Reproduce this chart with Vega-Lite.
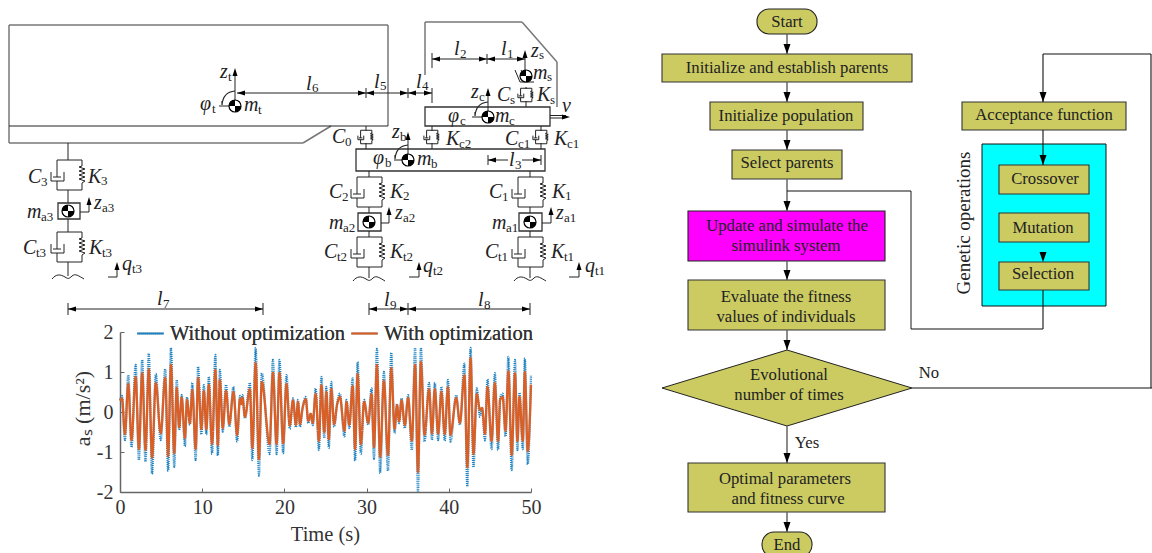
{
"$schema":"https://vega.github.io/schema/vega-lite/v6.json",
"width":1152,"height":553,"padding":0,"autosize":{"type":"none"},
"background":"white","view":{"stroke":null},
"config":{"text":{"font":"Liberation Serif"},"legend":{"labelFont":"Liberation Serif"}},
"resolve":{"scale":{"x":"independent","y":"independent","color":"independent"}},
"layer":[
{"encoding":{"x":{"field":"x","type":"quantitative","scale":{"domain":[0,1152],"range":[0,1152],"nice":false,"zero":false},"axis":null},"y":{"field":"y","type":"quantitative","scale":{"domain":[0,553],"range":[0,553],"nice":false,"zero":false},"axis":null}},
"layer":[
{"data":{"values":[{"x":982,"y":144,"x2":1106,"y2":306}]},"mark":{"type":"rect","fill":"#00FFFF","stroke":"#111","strokeWidth":1},"encoding":{"x2":{"field":"x2"},"y2":{"field":"y2"}}},
{"data":{"values":[
{"x":662,"y":54,"x2":912,"y2":82},{"x":710,"y":102,"x2":863,"y2":130},{"x":732,"y":150,"x2":842,"y2":179},{"x":688,"y":280,"x2":885,"y2":330},{"x":688,"y":463,"x2":885,"y2":512},{"x":962,"y":102,"x2":1126,"y2":130},{"x":999,"y":165,"x2":1089,"y2":194},{"x":999,"y":213,"x2":1089,"y2":242},{"x":999,"y":262,"x2":1089,"y2":290}
]},"mark":{"type":"rect","fill":"#CBCB62","stroke":"#333","strokeWidth":1.1},"encoding":{"x2":{"field":"x2"},"y2":{"field":"y2"}}},
{"data":{"values":[{"x":688,"y":211,"x2":885,"y2":261}]},"mark":{"type":"rect","fill":"#FF00FF","stroke":"#222","strokeWidth":1.1},"encoding":{"x2":{"field":"x2"},"y2":{"field":"y2"}}},
{"data":{"values":[{"x":757,"y":9,"x2":817,"y2":34},{"x":762,"y":532,"x2":812,"y2":557}]},"mark":{"type":"rect","fill":"#CBCB62","stroke":"#222","strokeWidth":1.1,"cornerRadius":12},"encoding":{"x2":{"field":"x2"},"y2":{"field":"y2"}}},
{"data":{"values":[{"x":787,"y":388}]},"mark":{"type":"point","shape":"M-125,0L0,-38L125,0L0,38Z","size":4,"filled":true,"fill":"#CBCB62","stroke":"#222","strokeWidth":1,"opacity":1}},
{"data":{"values":[
{"x":787,"y":34,"x2":787,"y2":54},{"x":787,"y":82,"x2":787,"y2":102},{"x":787,"y":130,"x2":787,"y2":150},{"x":787,"y":179,"x2":787,"y2":211},{"x":787,"y":261,"x2":787,"y2":280},{"x":787,"y":330,"x2":787,"y2":350},{"x":787,"y":426,"x2":787,"y2":463},{"x":787,"y":512,"x2":787,"y2":532},{"x":911,"y":191,"x2":911,"y2":329}
]},"mark":{"type":"rule","stroke":"#666","strokeWidth":1.5},"encoding":{"x2":{"field":"x2"},"y2":{"field":"y2"}}},
{"data":{"values":[
{"x":787,"y":191,"x2":911,"y2":191},{"x":911,"y":329,"x2":1043,"y2":329},{"x":1043,"y":329,"x2":1043,"y2":290},{"x":912,"y":388,"x2":1152,"y2":388},{"x":1151,"y":388,"x2":1151,"y2":54},{"x":1151,"y":54,"x2":1043,"y2":54},{"x":1043,"y":54,"x2":1043,"y2":102},{"x":1043,"y":130,"x2":1043,"y2":165}
]},"mark":{"type":"rule","stroke":"#111","strokeWidth":1.1},"encoding":{"x2":{"field":"x2"},"y2":{"field":"y2"}}},
{"data":{"values":[
{"x":787,"y":54},{"x":787,"y":102},{"x":787,"y":150},{"x":787,"y":211},{"x":787,"y":280},{"x":787,"y":350},{"x":787,"y":463},{"x":787,"y":532},{"x":1043,"y":102},{"x":1043,"y":165},{"x":1043,"y":262}
]},"mark":{"type":"point","shape":"M-3.5,-10L3.5,-10L0,0Z","size":4,"filled":true,"fill":"#000","stroke":null,"opacity":1}},
{"data":{"values":[
{"x":787,"y":22,"label":"Start"},{"x":787,"y":68,"label":"Initialize and establish parents"},{"x":786,"y":116,"label":"Initialize population"},{"x":787,"y":163,"label":"Select parents"},{"x":787,"y":226,"label":"Update and simulate the"},{"x":786,"y":246,"label":"simulink system"},{"x":786,"y":297,"label":"Evaluate the fitness"},{"x":786,"y":317,"label":"values of individuals"},{"x":789,"y":375,"label":"Evolutional"},{"x":789,"y":395,"label":"number of times"},{"x":785,"y":479,"label":"Optimal parameters"},{"x":788,"y":499,"label":"and fitness curve"},{"x":787,"y":545,"label":"End"},{"x":1044,"y":115,"label":"Acceptance function"},{"x":1045,"y":179,"label":"Crossover"},{"x":1043,"y":228,"label":"Mutation"},{"x":1043,"y":274,"label":"Selection"},{"x":929,"y":373,"label":"No"},{"x":807,"y":443,"label":"Yes"}
]},"mark":{"type":"text","font":"Liberation Serif","fontSize":16.7,"fill":"#222","align":"center","baseline":"middle"},"encoding":{"text":{"field":"label"}}},
{"data":{"values":[{"x":964,"y":223,"label":"Genetic operations"}]},"mark":{"type":"text","font":"Liberation Serif","fontSize":19,"fill":"#222","align":"center","baseline":"middle","angle":270},"encoding":{"text":{"field":"label"}}},
{"data":{"values":[
{"x":9,"y":25,"x2":388,"y2":25},{"x":388,"y":25,"x2":388,"y2":126},{"x":9,"y":25,"x2":9,"y2":143},{"x":9,"y":143,"x2":303,"y2":143},{"x":303,"y":143,"x2":331,"y2":126},{"x":425,"y":75,"x2":425,"y2":22},{"x":425,"y":22,"x2":522,"y2":22},{"x":522,"y":22,"x2":557,"y2":62},{"x":557,"y":62,"x2":557,"y2":107}
]},"mark":{"type":"rule","stroke":"#777","strokeWidth":1.5},"encoding":{"x2":{"field":"x2"},"y2":{"field":"y2"}}},
{"data":{"values":[
{"x":425,"y":107,"x2":550,"y2":126},{"x":356,"y":149,"x2":545,"y2":171},{"x":58,"y":203,"x2":80,"y2":219},{"x":358,"y":213,"x2":381,"y2":231},{"x":519,"y":213,"x2":542,"y2":231}
]},"mark":{"type":"rect","fill":null,"stroke":"#333","strokeWidth":1.3},"encoding":{"x2":{"field":"x2"},"y2":{"field":"y2"}}},
{"data":{"values":[
{"x":9,"y":126,"x2":388,"y2":126},
{"x":68,"y":143,"x2":68,"y2":160},{"x":68,"y":190,"x2":68,"y2":203},{"x":68,"y":219,"x2":68,"y2":232},{"x":68,"y":262,"x2":68,"y2":276},
{"x":369,"y":171,"x2":369,"y2":177},{"x":369,"y":207,"x2":369,"y2":213},{"x":369,"y":231,"x2":369,"y2":237},{"x":369,"y":267,"x2":369,"y2":278},
{"x":530,"y":171,"x2":530,"y2":177},{"x":530,"y":207,"x2":530,"y2":213},{"x":530,"y":231,"x2":530,"y2":237},{"x":530,"y":267,"x2":530,"y2":278},
{"x":80,"y":212,"x2":89,"y2":212},{"x":89,"y":212,"x2":89,"y2":200},{"x":381,"y":223,"x2":389,"y2":223},{"x":389,"y":223,"x2":389,"y2":210},{"x":542,"y":223,"x2":551,"y2":223},{"x":551,"y":223,"x2":551,"y2":210},
{"x":108,"y":277,"x2":117,"y2":277},{"x":117,"y":277,"x2":117,"y2":265},{"x":409,"y":277,"x2":419,"y2":277},{"x":419,"y":277,"x2":419,"y2":265},{"x":569,"y":277,"x2":579,"y2":277},{"x":579,"y":277,"x2":579,"y2":265},
{"x":68,"y":309,"x2":263,"y2":309},{"x":68,"y":303,"x2":68,"y2":315},{"x":263,"y":303,"x2":263,"y2":315},
{"x":369,"y":309,"x2":530,"y2":309},{"x":369,"y":303,"x2":369,"y2":315},{"x":408,"y":303,"x2":408,"y2":315},{"x":530,"y":303,"x2":530,"y2":315},
{"x":237,"y":93,"x2":432,"y2":93},{"x":366,"y":88,"x2":366,"y2":98},{"x":408,"y":88,"x2":408,"y2":98},{"x":432,"y":88,"x2":432,"y2":103},
{"x":432,"y":59,"x2":525,"y2":59},{"x":432,"y":53,"x2":432,"y2":68},{"x":487,"y":54,"x2":487,"y2":64},
{"x":488,"y":160,"x2":508,"y2":160},{"x":522,"y":160,"x2":541,"y2":160},{"x":488,"y":155,"x2":488,"y2":165},{"x":541,"y":155,"x2":541,"y2":165},
{"x":235,"y":106,"x2":235,"y2":72},{"x":219,"y":106,"x2":235,"y2":106},{"x":488,"y":117,"x2":488,"y2":92},{"x":472,"y":117,"x2":488,"y2":117},{"x":408,"y":160,"x2":408,"y2":136},{"x":394,"y":160,"x2":408,"y2":160},{"x":525,"y":78,"x2":525,"y2":54},
{"x":550,"y":115.5,"x2":566,"y2":115.5},{"x":550,"y":118,"x2":564,"y2":118},
{"x":366,"y":126,"x2":366,"y2":131},{"x":366,"y":143,"x2":366,"y2":149},{"x":432,"y":126,"x2":432,"y2":131},{"x":432,"y":143,"x2":432,"y2":149},{"x":541,"y":126,"x2":541,"y2":131},{"x":541,"y":143,"x2":541,"y2":149},{"x":526,"y":87,"x2":526,"y2":89},{"x":526,"y":101,"x2":526,"y2":107},
{"x":515,"y":70,"x2":520,"y2":82},{"x":520,"y":82,"x2":534,"y2":82},{"x":521,"y":70,"x2":526,"y2":80}
]},"mark":{"type":"rule","stroke":"#222","strokeWidth":1},"encoding":{"x2":{"field":"x2"},"y2":{"field":"y2"}}},
{"data":{"values":[{"x":69,"y":175},{"x":69,"y":247},{"x":369,"y":192},{"x":369,"y":252},{"x":530,"y":192},{"x":530,"y":252}]},"mark":{"type":"point","shape":"M-12,-15L13,-15L13,-9L10,-8L16,-6L10,-4L16,-2L10,0L16,2L10,4L16,6L13,8L13,15L-12,15L-12,6M-18,-3L-18,6L-5,6L-5,-3M-12,-15L-12,2M-16,2L-8,2","size":4,"filled":false,"stroke":"#222","strokeWidth":1,"opacity":1}},
{"data":{"values":[{"x":366,"y":137},{"x":432,"y":137},{"x":541,"y":137},{"x":526,"y":95}]},"mark":{"type":"point","shape":"M-12,-15L13,-15L13,-9L10,-8L16,-6L10,-4L16,-2L10,0L16,2L10,4L16,6L13,8L13,15L-12,15L-12,6M-18,-3L-18,6L-5,6L-5,-3M-12,-15L-12,2M-16,2L-8,2","size":0.81,"filled":false,"stroke":"#222","strokeWidth":1,"opacity":1}},
{"data":{"values":[{"x":68,"y":276},{"x":369,"y":278},{"x":530,"y":278}]},"mark":{"type":"point","shape":"M-16,3C-12,-2 -8,-2 -3,1C0,3 1,3 4,0C7,-3 11,0 16,3","size":4,"filled":false,"stroke":"#222","strokeWidth":1,"opacity":1}},
{"data":{"values":[{"x":235,"y":106},{"x":488,"y":117},{"x":408,"y":160}]},"mark":{"type":"point","shape":"M-13,-1Q-12,-14 0,-15M-13,-1L-13,-5","size":4,"filled":false,"stroke":"#222","strokeWidth":1.2,"opacity":1}},
{"data":{"values":[{"x":235,"y":106},{"x":488,"y":117},{"x":408,"y":160},{"x":526,"y":76},{"x":68,"y":211},{"x":369,"y":222},{"x":530,"y":222}]},"layer":[
{"mark":{"type":"point","shape":"circle","size":144,"filled":true,"fill":"white","stroke":"#000","strokeWidth":1.2,"opacity":1}},
{"mark":{"type":"point","shape":"M0,0L-6,0A6,6 0 0 1 0,-6ZM0,0L6,0A6,6 0 0 1 0,6Z","size":4,"filled":true,"fill":"#000","stroke":null,"opacity":1}}
]},
{"data":{"values":[{"x":235,"y":68},{"x":488,"y":88},{"x":408,"y":132},{"x":525,"y":50},{"x":89,"y":197},{"x":389,"y":207},{"x":551,"y":207},{"x":117,"y":262},{"x":419,"y":262},{"x":579,"y":262}]},"mark":{"type":"point","shape":"M-2.5,8L2.5,8L0,0Z","size":4,"filled":true,"fill":"#000","stroke":null,"opacity":1}},
{"data":{"values":[{"x":68,"y":309},{"x":369,"y":309},{"x":408,"y":309},{"x":237,"y":93},{"x":366,"y":93},{"x":408,"y":93},{"x":432,"y":59},{"x":487,"y":59},{"x":488,"y":160}]},"mark":{"type":"point","shape":"M8,-2.5L8,2.5L0,0Z","size":4,"filled":true,"fill":"#000","stroke":null,"opacity":1}},
{"data":{"values":[{"x":263,"y":309},{"x":408,"y":309},{"x":530,"y":309},{"x":366,"y":93},{"x":408,"y":93},{"x":432,"y":93},{"x":487,"y":59},{"x":525,"y":59},{"x":541,"y":160},{"x":570,"y":117}]},"mark":{"type":"point","shape":"M-8,-2.5L-8,2.5L0,0Z","size":4,"filled":true,"fill":"#000","stroke":null,"opacity":1}},
{"data":{"values":[
{"x":28,"y":177,"label":"C"},{"x":88,"y":177,"label":"K"},{"x":27,"y":212,"label":"m"},{"x":94,"y":203,"label":"z"},{"x":23,"y":248,"label":"C"},{"x":89,"y":248,"label":"K"},{"x":122,"y":264,"label":"q"},
{"x":329,"y":192,"label":"C"},{"x":390,"y":192,"label":"K"},{"x":329,"y":223,"label":"m"},{"x":395,"y":213,"label":"z"},{"x":324,"y":252,"label":"C"},{"x":390,"y":252,"label":"K"},{"x":423,"y":266,"label":"q"},
{"x":489,"y":192,"label":"C"},{"x":552,"y":192,"label":"K"},{"x":492,"y":223,"label":"m"},{"x":556,"y":213,"label":"z"},{"x":485,"y":252,"label":"C"},{"x":551,"y":252,"label":"K"},{"x":585,"y":266,"label":"q"},
{"x":220,"y":72,"label":"z"},{"x":200,"y":104,"label":"φ"},{"x":244,"y":105,"label":"m"},
{"x":471,"y":92,"label":"z"},{"x":448,"y":116,"label":"φ"},{"x":495,"y":116,"label":"m"},
{"x":392,"y":132,"label":"z"},{"x":373,"y":158,"label":"φ"},{"x":417,"y":159,"label":"m"},
{"x":531,"y":51,"label":"z"},{"x":533,"y":73,"label":"m"},
{"x":497,"y":95,"label":"C"},{"x":537,"y":95,"label":"K"},{"x":332,"y":137,"label":"C"},{"x":446,"y":139,"label":"K"},{"x":505,"y":139,"label":"C"},{"x":554,"y":139,"label":"K"},
{"x":562,"y":106,"label":"v"},
{"x":157,"y":299,"label":"l"},{"x":384,"y":300,"label":"l"},{"x":478,"y":300,"label":"l"},{"x":306,"y":84,"label":"l"},{"x":374,"y":82,"label":"l"},{"x":416,"y":82,"label":"l"},{"x":454,"y":49,"label":"l"},{"x":501,"y":49,"label":"l"},{"x":509,"y":160,"label":"l"}
]},"mark":{"type":"text","font":"Liberation Serif","fontStyle":"italic","fontSize":20,"fill":"#222","align":"left","baseline":"middle"},"encoding":{"text":{"field":"label"}}},
{"data":{"values":[
{"x":41,"y":182,"label":"3"},{"x":101,"y":181,"label":"3"},{"x":41,"y":217,"label":"a3"},{"x":102,"y":208,"label":"a3"},{"x":36,"y":253,"label":"t3"},{"x":102,"y":253,"label":"t3"},{"x":132,"y":269,"label":"t3"},
{"x":342,"y":197,"label":"2"},{"x":403,"y":196,"label":"2"},{"x":343,"y":228,"label":"a2"},{"x":403,"y":218,"label":"a2"},{"x":337,"y":257,"label":"t2"},{"x":403,"y":257,"label":"t2"},{"x":433,"y":271,"label":"t2"},
{"x":502,"y":197,"label":"1"},{"x":565,"y":196,"label":"1"},{"x":506,"y":228,"label":"a1"},{"x":564,"y":218,"label":"a1"},{"x":498,"y":257,"label":"t1"},{"x":564,"y":257,"label":"t1"},{"x":595,"y":271,"label":"t1"},
{"x":228,"y":77,"label":"t"},{"x":212,"y":109,"label":"t"},{"x":258,"y":110,"label":"t"},
{"x":479,"y":97,"label":"c"},{"x":460,"y":121,"label":"c"},{"x":509,"y":121,"label":"c"},
{"x":400,"y":137,"label":"b"},{"x":385,"y":163,"label":"b"},{"x":431,"y":164,"label":"b"},
{"x":539,"y":55,"label":"s"},{"x":547,"y":77,"label":"s"},
{"x":510,"y":100,"label":"s"},{"x":550,"y":100,"label":"s"},{"x":345,"y":142,"label":"0"},{"x":459,"y":144,"label":"c2"},{"x":518,"y":144,"label":"c1"},{"x":567,"y":144,"label":"c1"},
{"x":163,"y":304,"label":"7"},{"x":390,"y":305,"label":"9"},{"x":484,"y":305,"label":"8"},{"x":312,"y":88,"label":"6"},{"x":380,"y":86,"label":"5"},{"x":422,"y":86,"label":"4"},{"x":460,"y":54,"label":"2"},{"x":507,"y":54,"label":"1"},{"x":515,"y":165,"label":"3"}
]},"mark":{"type":"text","font":"Liberation Serif","fontSize":13,"fill":"#222","align":"left","baseline":"middle"},"encoding":{"text":{"field":"label"}}}
]},
{"data":{"values":[
{"t":0,"Without optimization":0.3,"With optimization":0.28},{"t":0.24,"Without optimization":0.4,"With optimization":0.34},{"t":0.6,"Without optimization":-0.7,"With optimization":-0.55},{"t":1.0,"Without optimization":0.92,"With optimization":0.7},{"t":1.4,"Without optimization":-0.88,"With optimization":-0.7},{"t":1.9,"Without optimization":1.18,"With optimization":0.88},{"t":2.3,"Without optimization":-1.2,"With optimization":-0.92},{"t":2.7,"Without optimization":1.3,"With optimization":0.97},{"t":3.1,"Without optimization":-1.24,"With optimization":-0.95},{"t":3.5,"Without optimization":1.46,"With optimization":1.07},{"t":3.9,"Without optimization":-1.55,"With optimization":-1.14},{"t":4.35,"Without optimization":0.95,"With optimization":0.72},{"t":4.95,"Without optimization":-0.7,"With optimization":-0.53},{"t":5.5,"Without optimization":1.07,"With optimization":0.85},{"t":5.85,"Without optimization":-1.47,"With optimization":-1.1},{"t":6.2,"Without optimization":1.6,"With optimization":1.18},{"t":6.6,"Without optimization":-1.37,"With optimization":-1.03},{"t":6.9,"Without optimization":0.8,"With optimization":0.6},{"t":7.2,"Without optimization":-0.45,"With optimization":-0.38},{"t":7.5,"Without optimization":0.42,"With optimization":0.36},{"t":7.9,"Without optimization":-0.86,"With optimization":-0.65},{"t":8.15,"Without optimization":0.37,"With optimization":0.3},{"t":8.5,"Without optimization":-0.32,"With optimization":-0.28},{"t":8.8,"Without optimization":0.73,"With optimization":0.55},{"t":9.2,"Without optimization":-1.2,"With optimization":-0.92},{"t":9.5,"Without optimization":1.13,"With optimization":0.85},{"t":9.9,"Without optimization":-0.56,"With optimization":-0.43},{"t":10.2,"Without optimization":0.67,"With optimization":0.52},{"t":10.5,"Without optimization":-0.56,"With optimization":-0.43},{"t":10.8,"Without optimization":0.88,"With optimization":0.68},{"t":11.2,"Without optimization":-1.05,"With optimization":-0.8},{"t":11.6,"Without optimization":1.43,"With optimization":1.05},{"t":11.9,"Without optimization":-1.09,"With optimization":-0.83},{"t":12.15,"Without optimization":1.05,"With optimization":0.8},{"t":12.5,"Without optimization":-0.49,"With optimization":-0.4},{"t":12.9,"Without optimization":0.68,"With optimization":0.53},{"t":13.3,"Without optimization":-0.37,"With optimization":-0.3},{"t":13.8,"Without optimization":0.63,"With optimization":0.5},{"t":14.25,"Without optimization":-0.74,"With optimization":-0.57},{"t":14.6,"Without optimization":0.4,"With optimization":0.33},{"t":14.75,"Without optimization":0.22,"With optimization":0.2},{"t":14.9,"Without optimization":0.42,"With optimization":0.36},{"t":15.2,"Without optimization":-0.16,"With optimization":-0.12},{"t":15.8,"Without optimization":0.73,"With optimization":0.57},{"t":16.1,"Without optimization":-1.2,"With optimization":-0.9},{"t":16.5,"Without optimization":1.6,"With optimization":1.23},{"t":16.9,"Without optimization":-1.59,"With optimization":-1.18},{"t":17.25,"Without optimization":0.97,"With optimization":0.75},{"t":18.2,"Without optimization":-1.05,"With optimization":-0.8},{"t":18.6,"Without optimization":1.3,"With optimization":0.98},{"t":19.05,"Without optimization":-1.05,"With optimization":-0.8},{"t":19.4,"Without optimization":1.3,"With optimization":0.98},{"t":19.85,"Without optimization":-1.03,"With optimization":-0.78},{"t":20.25,"Without optimization":0.92,"With optimization":0.7},{"t":20.65,"Without optimization":-0.42,"With optimization":-0.34},{"t":21.05,"Without optimization":0.34,"With optimization":0.29},{"t":21.4,"Without optimization":-0.38,"With optimization":-0.32},{"t":21.65,"Without optimization":0.3,"With optimization":0.25},{"t":21.9,"Without optimization":-0.37,"With optimization":-0.3},{"t":22.2,"Without optimization":0.1,"With optimization":0.08},{"t":22.6,"Without optimization":0.38,"With optimization":0.32},{"t":22.9,"Without optimization":-0.28,"With optimization":-0.22},{"t":23.2,"Without optimization":-0.05,"With optimization":-0.05},{"t":23.45,"Without optimization":-0.33,"With optimization":-0.27},{"t":23.8,"Without optimization":0.59,"With optimization":0.45},{"t":24.2,"Without optimization":-0.95,"With optimization":-0.72},{"t":24.5,"Without optimization":0.88,"With optimization":0.67},{"t":24.85,"Without optimization":-0.65,"With optimization":-0.5},{"t":25.1,"Without optimization":0.63,"With optimization":0.5},{"t":25.4,"Without optimization":-0.9,"With optimization":-0.68},{"t":25.7,"Without optimization":0.75,"With optimization":0.58},{"t":26.05,"Without optimization":-0.37,"With optimization":-0.3},{"t":26.4,"Without optimization":0.2,"With optimization":0.17},{"t":26.75,"Without optimization":0.46,"With optimization":0.38},{"t":27.3,"Without optimization":-0.61,"With optimization":-0.47},{"t":27.55,"Without optimization":0.3,"With optimization":0.25},{"t":27.9,"Without optimization":-0.4,"With optimization":-0.32},{"t":28.3,"Without optimization":0.84,"With optimization":0.65},{"t":28.6,"Without optimization":-1.22,"With optimization":-0.92},{"t":28.9,"Without optimization":1.25,"With optimization":0.95},{"t":29.3,"Without optimization":-1.05,"With optimization":-0.8},{"t":29.7,"Without optimization":0.3,"With optimization":0.25},{"t":30.2,"Without optimization":-0.32,"With optimization":-0.27},{"t":30.6,"Without optimization":0.59,"With optimization":0.45},{"t":30.9,"Without optimization":-1.17,"With optimization":-0.88},{"t":31.25,"Without optimization":1.58,"With optimization":1.18},{"t":31.65,"Without optimization":-1.53,"With optimization":-1.12},{"t":32.1,"Without optimization":1.0,"With optimization":0.78},{"t":32.6,"Without optimization":-1.47,"With optimization":-1.08},{"t":33.0,"Without optimization":1.48,"With optimization":1.1},{"t":33.4,"Without optimization":-0.53,"With optimization":-0.42},{"t":33.7,"Without optimization":0.2,"With optimization":0.17},{"t":33.95,"Without optimization":-0.28,"With optimization":-0.23},{"t":34.25,"Without optimization":0.34,"With optimization":0.29},{"t":34.65,"Without optimization":-0.4,"With optimization":-0.32},{"t":35.05,"Without optimization":0.42,"With optimization":0.35},{"t":35.5,"Without optimization":-0.95,"With optimization":-0.72},{"t":35.9,"Without optimization":1.6,"With optimization":1.18},{"t":36.25,"Without optimization":-2,"With optimization":-1.5},{"t":36.6,"Without optimization":1.6,"With optimization":1.25},{"t":37.05,"Without optimization":-0.74,"With optimization":-0.57},{"t":37.6,"Without optimization":0.73,"With optimization":0.57},{"t":37.95,"Without optimization":-0.7,"With optimization":-0.54},{"t":38.3,"Without optimization":0.73,"With optimization":0.57},{"t":38.7,"Without optimization":-0.7,"With optimization":-0.54},{"t":39.1,"Without optimization":0.63,"With optimization":0.5},{"t":39.5,"Without optimization":-0.72,"With optimization":-0.55},{"t":39.9,"Without optimization":0.8,"With optimization":0.62},{"t":40.2,"Without optimization":-0.74,"With optimization":-0.57},{"t":40.9,"Without optimization":0.42,"With optimization":0.35},{"t":41.35,"Without optimization":-0.32,"With optimization":-0.27},{"t":41.9,"Without optimization":1.21,"With optimization":0.92},{"t":42.25,"Without optimization":-1.86,"With optimization":-1.38},{"t":42.65,"Without optimization":1.6,"With optimization":1.35},{"t":43.0,"Without optimization":-1.38,"With optimization":-1.05},{"t":43.4,"Without optimization":0.59,"With optimization":0.45},{"t":43.8,"Without optimization":-0.12,"With optimization":0.05},{"t":44.05,"Without optimization":0.1,"With optimization":0.1},{"t":44.4,"Without optimization":-0.71,"With optimization":-0.55},{"t":44.7,"Without optimization":0.82,"With optimization":0.63},{"t":45.2,"Without optimization":-0.93,"With optimization":-0.72},{"t":45.6,"Without optimization":0.97,"With optimization":0.72},{"t":46.0,"Without optimization":-0.95,"With optimization":-0.73},{"t":46.25,"Without optimization":0.35,"With optimization":0.3},{"t":46.55,"Without optimization":0.46,"With optimization":0.38},{"t":46.9,"Without optimization":-0.61,"With optimization":-0.47},{"t":47.25,"Without optimization":1.38,"With optimization":1.02},{"t":47.65,"Without optimization":-1.45,"With optimization":-1.07},{"t":48.05,"Without optimization":1.3,"With optimization":0.97},{"t":48.35,"Without optimization":-0.95,"With optimization":-0.73},{"t":48.6,"Without optimization":0.48,"With optimization":0.38},{"t":49.0,"Without optimization":-0.93,"With optimization":-0.72},{"t":49.25,"Without optimization":1.34,"With optimization":1.0},{"t":49.6,"Without optimization":-1.31,"With optimization":-0.98},{"t":50,"Without optimization":0.92,"With optimization":0.68}
]},
"transform":[{"fold":["Without optimization","With optimization"],"as":["series","a"]}],
"mark":{"type":"line","strokeWidth":2.3,"interpolate":"monotone","clip":false},
"encoding":{
"x":{"field":"t","type":"quantitative","scale":{"domain":[0,50],"range":[120,531],"nice":false,"zero":false},
"axis":{"offset":-61,"values":[0,10,20,30,40,50],"grid":false,"title":"Time (s)","titleFont":"Liberation Serif","titleFontSize":20.5,"titleFontWeight":"normal","titleColor":"#333","titleX":325,"titleY":42,"titleBaseline":"middle","labelFont":"Liberation Serif","labelFontSize":20,"labelColor":"#333","labelPadding":9,"domainColor":"#666","domainWidth":1.5,"tickColor":"#666","tickSize":-4,"labelFlush":false}},
"y":{"field":"a","type":"quantitative","scale":{"domain":[-2,2],"range":[492,332],"nice":false,"zero":false},
"axis":{"offset":-120,"values":[-2,-1,0,1,2],"grid":false,"title":"aₛ (m/s²)","titleFont":"Liberation Serif","titleFontSize":22,"titleFontWeight":"normal","titleColor":"#333","titleX":-38,"titleY":408,"titleBaseline":"middle","labelFont":"Liberation Serif","labelFontSize":20,"labelColor":"#333","labelPadding":11,"labelExpr":"replace(datum.label,'−','-')","domainColor":"#666","domainWidth":1.5,"tickColor":"#666","tickSize":-4}},
"color":{"field":"series","type":"nominal","scale":{"domain":["Without optimization","With optimization"],"range":["#1F82C0","#D95F26"]},
"legend":{"orient":"none","legendX":136,"legendY":319,"direction":"horizontal","columns":2,"title":null,"labelFontSize":20.5,"labelColor":"#333","labelFont":"Liberation Serif","labelLimit":300,"symbolType":"stroke","symbolSize":700,"symbolStrokeWidth":2,"columnPadding":1,"labelOffset":5}},
"strokeDash":{"field":"series","type":"nominal","scale":{"domain":["Without optimization","With optimization"],"range":[[1,1],[1,0]]},
"legend":{"orient":"none","legendX":136,"legendY":319,"direction":"horizontal","columns":2,"title":null,"labelFontSize":20.5,"labelColor":"#333","labelFont":"Liberation Serif","labelLimit":300,"symbolType":"stroke","symbolSize":700,"symbolStrokeWidth":2,"columnPadding":1,"labelOffset":5}},
"order":{"field":"t"}
}}
]
}
